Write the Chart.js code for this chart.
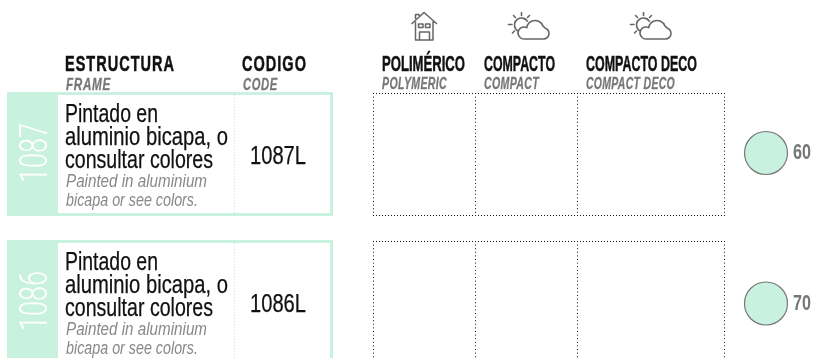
<!DOCTYPE html>
<html>
<head>
<meta charset="utf-8">
<style>
  html, body { margin: 0; padding: 0; background: #fff; overflow: hidden; }
  canvas { display: block; }
</style>
<script src="https://cdn.jsdelivr.net/npm/chart.js@4/dist/chart.umd.min.js"></script>
</head>
<body>
<canvas id="sheet" width="815" height="358"></canvas>
<script>
const seriesCodes = ['1087', '1086'];
const frameCodes = ['1087L', '1086L'];
const bubbleValues = [60, 70];
const bubbleColumn = ['Ø'];
const frameLinesEs = ['Pintado en', 'aluminio bicapa, o', 'consultar colores'];
const frameLinesEn = ['Painted in aluminium', 'bicapa or see colors.'];

const MINT = '#c8f1df';
const NARROW = '"Liberation Sans Narrow", "Liberation Sans", sans-serif';

// text squeezed to a target width, the original face is a condensed gothic
function fitText(ctx, text, x, base, width, font, color, weight, spacing) {
  ctx.save();
  ctx.font = font;
  ctx.fillStyle = color;
  ctx.strokeStyle = color;
  ctx.textBaseline = 'alphabetic';
  ctx.textAlign = 'left';
  if (spacing) ctx.letterSpacing = spacing;
  const w = ctx.measureText(text).width;
  ctx.translate(x, base);
  ctx.scale(width / w, 1);
  ctx.fillText(text, 0, 0);
  if (weight) {
    ctx.lineWidth = weight;
    ctx.strokeText(text, 0, 0);
  }
  ctx.restore();
}

function dotted(ctx, x1, y1, x2, y2, color, gap) {
  ctx.save();
  ctx.strokeStyle = color;
  ctx.lineWidth = 1;
  ctx.setLineDash([1, gap || 2]);
  ctx.beginPath();
  ctx.moveTo(x1, y1);
  ctx.lineTo(x2, y2);
  ctx.stroke();
  ctx.restore();
}

function drawHouse(ctx, x, y) {
  ctx.save();
  ctx.translate(x, y);
  ctx.strokeStyle = '#666';
  ctx.lineWidth = 1.5;
  ctx.lineJoin = 'round';
  ctx.beginPath();
  ctx.moveTo(0.5, 12); ctx.lineTo(13, 0.5); ctx.lineTo(26, 12);
  ctx.moveTo(4.5, 9.5); ctx.lineTo(4.5, 28); ctx.lineTo(22, 28); ctx.lineTo(22, 9.5);
  ctx.moveTo(4.5, 7); ctx.lineTo(4.5, 2.5); ctx.lineTo(8, 2.5); ctx.lineTo(8, 4);
  ctx.rect(7.5, 12, 4.5, 3.5);
  ctx.rect(14.5, 12, 4.5, 3.5);
  ctx.moveTo(8.5, 28); ctx.lineTo(8.5, 20); ctx.lineTo(18.5, 20); ctx.lineTo(18.5, 28);
  ctx.stroke();
  ctx.restore();
}

function drawWeather(ctx, x, y) {
  ctx.save();
  ctx.translate(x, y);
  ctx.strokeStyle = '#666';
  ctx.lineWidth = 1.6;
  ctx.lineCap = 'round';
  ctx.beginPath();
  // rays
  ctx.moveTo(13.5, 0.5); ctx.lineTo(13.5, 3.5);
  ctx.moveTo(5.5, 3.5); ctx.lineTo(7.5, 5.5);
  ctx.moveTo(21.5, 3.5); ctx.lineTo(19.5, 5.5);
  ctx.moveTo(0.5, 12.5); ctx.lineTo(4, 12.5);
  ctx.moveTo(4.5, 21); ctx.lineTo(6.5, 19);
  // sun
  ctx.moveTo(19.5, 9);
  ctx.arc(13.5, 13, 7, -0.6, 2.2, true);
  // cloud
  ctx.moveTo(16, 27);
  ctx.lineTo(35.5, 27);
  ctx.arc(35.5, 21.5, 5.5, Math.PI / 2, -Math.PI / 2.6, true);
  ctx.arc(27, 17, 8.5, -0.35, -2.7, true);
  ctx.arc(16, 21, 6, -1.1, Math.PI / 2, true);
  ctx.stroke();
  ctx.restore();
}

const sheetPlugin = {
  id: 'sheet',
  beforeDatasetsDraw(chart) {
    const ctx = chart.ctx;
    const HEAD = 'bold 21.5px ' + NARROW;
    const HEAD_EN = 'italic bold 17px ' + NARROW;
    const BODY = '26px ' + NARROW;
    const BODY_EN = 'italic 17.5px ' + NARROW;

    fitText(ctx, 'ESTRUCTURA', 65, 71, 110, HEAD, '#111', 0.5, '1.5px');
    fitText(ctx, 'FRAME', 66, 90, 45, HEAD_EN, '#777', 0.3, '1px');
    fitText(ctx, 'CODIGO', 242, 71, 65, HEAD, '#111', 0.5, '1.5px');
    fitText(ctx, 'CODE', 243, 90, 35, HEAD_EN, '#777', 0.3, '1px');
    fitText(ctx, 'POLIMÉRICO', 382, 71, 83, HEAD, '#111', 0.5);
    fitText(ctx, 'POLYMERIC', 382, 89, 65, HEAD_EN, '#777', 0.3, '0.5px');
    fitText(ctx, 'COMPACTO', 484, 71, 71, HEAD, '#111', 0.5);
    fitText(ctx, 'COMPACT', 484, 89, 55, HEAD_EN, '#777', 0.3, '0.5px');
    fitText(ctx, 'COMPACTO DECO', 586, 71, 111, HEAD, '#111', 0.5);
    fitText(ctx, 'COMPACT DECO', 586, 89, 89, HEAD_EN, '#777', 0.3, '0.5px');

    drawHouse(ctx, 411, 12);
    drawWeather(ctx, 508, 12);
    drawWeather(ctx, 630, 12);

    seriesCodes.forEach((code, i) => {
      const top = i === 0 ? 92 : 240;
      const h = 124;
      ctx.fillStyle = MINT;
      ctx.fillRect(7, top, 326, h);
      ctx.fillStyle = '#fff';
      ctx.fillRect(58, top + 3, 272, h - 6);
      dotted(ctx, 234.5, top + 3, 234.5, top + h - 3, '#bfe9d6');

      ctx.save();
      ctx.translate(47, top + 91);
      ctx.rotate(-Math.PI / 2);
      ctx.font = '300 39px Roboto, sans-serif';
      ctx.fillStyle = '#fff';
      const w = ctx.measureText(code).width;
      ctx.scale(60 / w, 1);
      ctx.fillText(code, 0, 0);
      ctx.restore();

      const widths = [93, 163, 148];
      frameLinesEs.forEach((line, j) => {
        fitText(ctx, line, 65, top + 30 + j * 23, widths[j], BODY, '#111', 0.25);
      });
      const widthsEn = [141, 132];
      frameLinesEn.forEach((line, j) => {
        fitText(ctx, line, 66, top + 95 + j * 19, widthsEn[j], BODY_EN, '#888');
      });
      fitText(ctx, frameCodes[i], 250, top + 72, 56, BODY, '#111', 0.25);

      [373.5, 475.5, 577.5, 724.5].forEach(x => {
        dotted(ctx, x, top + 1, x, Math.min(top + h, 358), '#111', 2.6);
      });
      dotted(ctx, 373, top + 1.5, 725, top + 1.5, '#111');
      dotted(ctx, 373, top + h - 0.5, 725, top + h - 0.5, '#111');
    });
  },
  afterDatasetsDraw(chart) {
    const ctx = chart.ctx;
    const meta = chart.getDatasetMeta(0);
    meta.data.forEach((pt, i) => {
      fitText(ctx, String(bubbleValues[i]), 793, pt.y + 6, 18, 'bold 22px ' + NARROW, '#777');
    });
  }
};

new Chart(document.getElementById('sheet').getContext('2d'), {
  type: 'bubble',
  data: {
    datasets: [{
      label: 'Ø',
      data: seriesCodes.map((code, i) => ({ x: bubbleColumn[0], y: code, value: bubbleValues[i] })),
      backgroundColor: MINT,
      borderColor: '#777',
      borderWidth: 1.2,
      radius: 21.5,
      clip: false
    }]
  },
  plugins: [sheetPlugin],
  options: {
    responsive: false,
    animation: false,
    layout: { padding: { left: 740, right: 23, top: 153, bottom: 54.5 } },
    plugins: { legend: { display: false }, tooltip: { enabled: false } },
    scales: {
      x: { type: 'category', labels: bubbleColumn, offset: true, display: false },
      y: { type: 'category', labels: seriesCodes, offset: false, display: false }
    }
  }
});
</script>
</body>
</html>
